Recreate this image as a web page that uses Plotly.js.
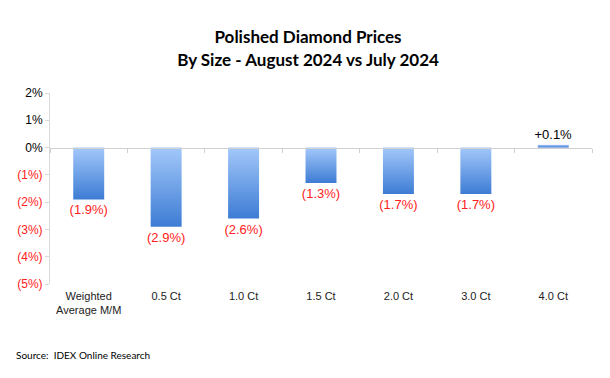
<!DOCTYPE html>
<html>
<head>
<meta charset="utf-8">
<script src="https://cdn.plot.ly/plotly-3.0.1.min.js"></script>
<style>
html,body{margin:0;padding:0;background:#fff;}
#chart{width:610px;height:378px;}
</style>
</head>
<body>
<div id="chart"></div>
<script>
const categories = ["Weighted<br>Average M/M", "0.5 Ct", "1.0 Ct", "1.5 Ct", "2.0 Ct", "3.0 Ct", "4.0 Ct"];
const changes = [-1.9, -2.9, -2.6, -1.3, -1.7, -1.7, 0.1];
const yTickVals = [2, 1, 0, -1, -2, -3, -4, -5];
const yTickText = ["2%", "1%", "0%", "(1%)", "(2%)", "(3%)", "(4%)", "(5%)"];

const RED = "#ff2020";
const labels = changes.map(v => v < 0 ? "(" + Math.abs(v).toFixed(1) + "%)" : "+" + v.toFixed(1) + "%");
const labelColors = changes.map(v => v < 0 ? RED : "#000000");
const tickText = yTickVals.map((v, i) => v < 0 ? "<span style='color:" + RED + "'>" + yTickText[i] + "</span>" : yTickText[i]);
const idx = categories.map((c, i) => i);

const traces = [
  {
    type: "bar",
    x: idx,
    y: changes,
    width: 0.4,
    marker: {color: "#6a9fe6"},
    text: labels,
    textposition: "outside",
    constraintext: "none",
    textfont: {family: "Liberation Sans, Arial, sans-serif", size: 13, color: labelColors},
    cliponaxis: false,
    hoverinfo: "none"
  },
  {
    type: "scatter",
    x: [], y: [],
    xaxis: "x2",
    hoverinfo: "none",
    showlegend: false
  }
];

const layout = {
  width: 610,
  height: 378,
  margin: {l: 50, r: 18, t: 93, b: 94},
  paper_bgcolor: "#ffffff",
  plot_bgcolor: "#ffffff",
  showlegend: false,
  title: {
    text: "<b>Polished Diamond Prices<br>By Size - August 2024 vs July 2024</b>",
    font: {family: "Lato, Open Sans, sans-serif", size: 17, color: "#000000"},
    x: 0.505, xanchor: "center",
    y: 0.885, yanchor: "bottom"
  },
  xaxis: {
    type: "linear",
    range: [-0.5, 6.5],
    tickvals: idx,
    ticktext: categories,
    showline: false,
    showgrid: false,
    zeroline: false,
    ticks: "",
    ticklabelstandoff: 4,
    tickfont: {family: "Liberation Sans, Arial, sans-serif", size: 11, color: "#222222"},
    fixedrange: true
  },
  xaxis2: {
    type: "linear",
    overlaying: "x",
    anchor: "free",
    position: 5 / 7,
    range: [-0.5, 6.5],
    tickvals: [-0.5, 0.5, 1.5, 2.5, 3.5, 4.5, 5.5, 6.5],
    showticklabels: false,
    ticks: "outside",
    ticklen: 4,
    tickcolor: "#d0d0d0",
    showline: true,
    linecolor: "#d0d0d0",
    linewidth: 1,
    showgrid: false,
    zeroline: false
  },
  yaxis: {
    range: [-5, 2],
    tickvals: yTickVals,
    ticktext: tickText,
    showline: true,
    linecolor: "#d9d9d9",
    linewidth: 1,
    ticks: "outside",
    ticklen: 4,
    tickcolor: "#d9d9d9",
    showgrid: false,
    zeroline: false,
    tickfont: {family: "Liberation Sans, Arial, sans-serif", size: 12, color: "#000000"},
    fixedrange: true
  },
  annotations: [
    {
      text: "Source:  IDEX Online Research",
      xref: "paper", yref: "paper",
      x: -0.066, y: -0.372,
      xanchor: "left", yanchor: "middle",
      showarrow: false,
      font: {family: "Lato, Open Sans, sans-serif", size: 10, color: "#000000"}
    }
  ]
};

function applyGradient(gd) {
  const svg = gd.querySelector("svg.main-svg");
  if (!svg) return;
  let defs = svg.querySelector("defs");
  if (!defs) {
    defs = document.createElementNS("http://www.w3.org/2000/svg", "defs");
    svg.insertBefore(defs, svg.firstChild);
  }
  if (!svg.querySelector("#barGrad")) {
    const ns = "http://www.w3.org/2000/svg";
    const lg = document.createElementNS(ns, "linearGradient");
    lg.setAttribute("id", "barGrad");
    lg.setAttribute("x1", "0"); lg.setAttribute("y1", "0");
    lg.setAttribute("x2", "0"); lg.setAttribute("y2", "1");
    const s1 = document.createElementNS(ns, "stop");
    s1.setAttribute("offset", "0"); s1.setAttribute("stop-color", "#a3c8fa");
    const s2 = document.createElementNS(ns, "stop");
    s2.setAttribute("offset", "1"); s2.setAttribute("stop-color", "#3d7cd4");
    lg.appendChild(s1); lg.appendChild(s2);
    defs.appendChild(lg);
  }
  gd.querySelectorAll(".bars .point path").forEach(p => {
    p.style.fill = "url(#barGrad)";
  });
}

const gd = document.getElementById("chart");
Plotly.newPlot(gd, traces, layout, {displayModeBar: false, staticPlot: true}).then(() => {
  applyGradient(gd);
  gd.on("plotly_afterplot", () => applyGradient(gd));
});
</script>
</body>
</html>
